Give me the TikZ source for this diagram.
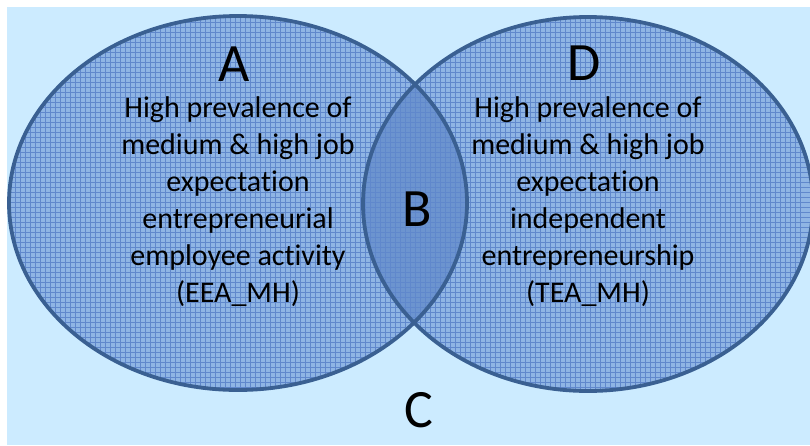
\documentclass[tikz,border=0pt]{standalone}
\usepackage{fontspec}
\setmainfont{Carlito}[Ligatures=NoCommon]
\definecolor{bgblue}{RGB}{204,235,255}
\definecolor{ellfill}{RGB}{143,181,228}
\definecolor{lensfill}{RGB}{108,148,207}
\definecolor{gridblue}{RGB}{96,136,204}
\definecolor{rimblue}{RGB}{58,96,146}
\tikzset{
  venn/.style={draw=rimblue, line width=3.8pt},
  gridline/.style={draw=gridblue, line width=0.8pt},
  bigletter/.style={font=\fontsize{54}{60}\selectfont, inner sep=0pt},
  bodytext/.style={font=\fontsize{30}{37}\selectfont, align=center, inner sep=0pt}
}
\begin{document}
\begin{tikzpicture}[x=1pt,y=-1pt]
\useasboundingbox (0,0) rectangle (810,445);
\fill[white] (0,0) rectangle (810,445);
\fill[bgblue] (7,7) rectangle (810,445);
% ellipses fill
\fill[ellfill] (238,203) ellipse [x radius=229pt, y radius=187pt];
\fill[ellfill] (588,204) ellipse [x radius=225pt, y radius=187pt];
\begin{scope}
  \clip (238,203) ellipse [x radius=229pt, y radius=187pt];
  \fill[lensfill] (588,204) ellipse [x radius=225pt, y radius=187pt];
\end{scope}
% grid
\begin{scope}
  \clip (238,203) ellipse [x radius=229pt, y radius=187pt];
  \foreach \i in {0,...,96} {
    \draw[gridline] (5+5*\i,10) -- (5+5*\i,400);
  }
  \foreach \j in {0,...,80} {
    \draw[gridline] (5,12+5*\j) -- (475,12+5*\j);
  }
\end{scope}
\begin{scope}
  \clip (588,204) ellipse [x radius=225pt, y radius=187pt];
  \clip (0,0) -| (363,445) -- (810,445) |- (810,0) -- cycle;
  \foreach \i in {0,...,96} {
    \draw[gridline] (320+5*\i,10) -- (320+5*\i,400);
  }
  \foreach \j in {0,...,80} {
    \draw[gridline] (355,12+5*\j) -- (815,12+5*\j);
  }
\end{scope}
% rims
\draw[venn] (238,203) ellipse [x radius=229pt, y radius=187pt];
\draw[venn] (588,204) ellipse [x radius=225pt, y radius=187pt];
% texts
\node[bigletter] (A) at (234,64) {A};
\node[bigletter] (D) at (584,63) {D};
\node[bigletter] (B) at (417,209) {B};
\node[bigletter] (C) at (419,410) {C};
\node[bodytext] (left) at (238,202) {High prevalence of\\medium \& high job\\expectation\\entrepreneurial\\employee activity\\(EEA\_MH)};
\node[bodytext] (right) at (588,202) {High prevalence of\\medium \& high job\\expectation\\independent\\entrepreneurship\\(TEA\_MH)};
\end{tikzpicture}
\end{document}
